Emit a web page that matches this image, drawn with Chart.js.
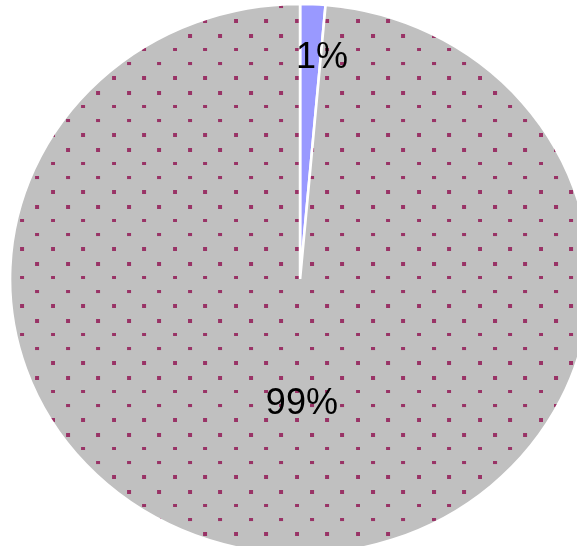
<!DOCTYPE html>
<html lang="en">

<head>
  <meta charset="UTF-8">
  <script src="https://cdn.jsdelivr.net/npm/chart.js"></script>
  <style>
    html, body { margin: 0; padding: 0; background: #fff; overflow: hidden; }
    #canvas_pizza { display: block; }
  </style>
  <title>Pie</title>
</head>

<body>

  <canvas id="canvas_pizza" width="577" height="546"></canvas>

  <script>
    var categorias = ['Slice 1', 'Slice 2'];
    var valores = [1.4, 98.6];
    var cores = ['#9999ff', 'dots'];

    // the source pie is a little wider than tall
    var esticar = 289 / 274;

    // gray tile with purple dots, in screen pixels
    function motivoPontos(ctx) {
        var tile = document.createElement('canvas');
        tile.width = 61;
        tile.height = 57;
        var t = tile.getContext('2d');
        t.fillStyle = '#c0c0c0';
        t.fillRect(0, 0, 61, 57);
        t.fillStyle = '#993366';
        [[20, 19, 4], [51, 19, 4], [20, 48, 3], [51, 48, 3],
         [5, 5, 3], [35, 5, 3], [5, 34, 4], [35, 34, 4]].forEach(function (d) {
            t.fillRect(d[0], d[1], 4, d[2]);
        });
        var motivo = ctx.createPattern(tile, 'repeat');
        // undo the horizontal stretch so the dots stay on whole pixels
        motivo.setTransform(new DOMMatrix([1 / esticar, 0, 0, 1, 0, 0]));
        return motivo;
    }

    var oval = {
        id: 'oval',
        beforeDatasetsDraw: function (chart) {
            chart.ctx.save();
            chart.ctx.scale(esticar, 1);
        },
        afterDatasetsDraw: function (chart) {
            chart.ctx.restore();
        }
    };

    var rotulos = {
        id: 'rotulos',
        afterDraw: function (chart, args, opts) {
            var ctx = chart.ctx;
            var arcos = chart.getDatasetMeta(0).data;
            var total = valores.reduce(function (a, b) { return a + b; }, 0);
            ctx.save();
            ctx.font = '36px "Liberation Sans", Arial, sans-serif';
            ctx.fillStyle = '#000';
            ctx.textAlign = 'center';
            ctx.textBaseline = 'alphabetic';
            arcos.forEach(function (arco, i) {
                var p = arco.getProps(['x', 'y', 'startAngle', 'endAngle', 'outerRadius'], true);
                var meio = (p.startAngle + p.endAngle) / 2;
                var r = p.outerRadius * opts.raio[i];
                var texto = Math.round(valores[i] / total * 100) + '%';
                var x = (p.x + Math.cos(meio) * r) * esticar + opts.desvio[i];
                // baseline sits about 13px under the middle of the digits
                ctx.fillText(texto, x, p.y + Math.sin(meio) * r + 13);
            });
            ctx.restore();
        }
    };

    var ctx = document.getElementById('canvas_pizza').getContext('2d');
    var fundo = cores.map(function (c) { return c === 'dots' ? motivoPontos(ctx) : c; });

    new Chart(ctx, {
        type: 'pie',
        data: {
            labels: categorias,
            datasets: [{
                data: valores,
                backgroundColor: fundo,
                borderColor: '#ffffff',
                borderWidth: 2.5,
                hoverOffset: 0
            }]
        },
        options: {
            responsive: false,
            devicePixelRatio: 1,
            animation: false,
            radius: 275,
            layout: { padding: { left: 0, top: 12, right: 8, bottom: 0 } },
            plugins: {
                legend: { display: false },
                tooltip: { enabled: false },
                rotulos: { raio: [0.817, 0.445], desvio: [11.5, 7.5] }
            }
        },
        plugins: [oval, rotulos]
    });
  </script>
</body>

</html>
